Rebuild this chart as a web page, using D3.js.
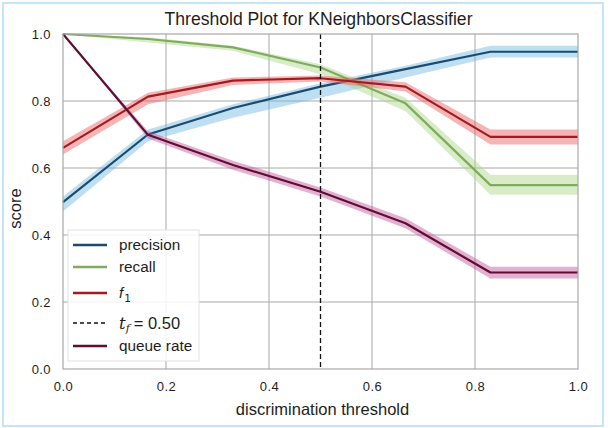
<!DOCTYPE html>
<html>
<head>
<meta charset="utf-8">
<script src="https://cdn.jsdelivr.net/npm/d3@7/dist/d3.min.js"></script>
<style>
  html, body { margin: 0; padding: 0; background: #fff; }
  svg { display: block; }
  text { font-family: "Liberation Sans", Arial, sans-serif; fill: #1e1e1e; }
</style>
</head>
<body>
<svg id="chart" width="610" height="428"></svg>
<script>
// Discrimination thresholds at which each metric was evaluated
const thresholds = [0, 0.165, 0.33, 0.5, 0.665, 0.83, 1.0];

// Median score per threshold, with lower / upper bands across trials
const precision     = [0.498, 0.700, 0.779, 0.843, 0.895, 0.947, 0.947];
const precisionLow  = [0.470, 0.680, 0.750, 0.810, 0.870, 0.930, 0.930];
const precisionHigh = [0.515, 0.715, 0.790, 0.853, 0.905, 0.965, 0.965];

const recall     = [1.000, 0.985, 0.960, 0.900, 0.793, 0.549, 0.549];
const recallLow  = [1.000, 0.975, 0.950, 0.880, 0.770, 0.520, 0.520];
const recallHigh = [1.000, 0.990, 0.965, 0.910, 0.810, 0.580, 0.580];

const f1     = [0.660, 0.813, 0.861, 0.868, 0.843, 0.693, 0.693];
const f1Low  = [0.640, 0.790, 0.848, 0.858, 0.828, 0.670, 0.670];
const f1High = [0.680, 0.825, 0.870, 0.876, 0.856, 0.715, 0.715];

const queueRate     = [1.000, 0.699, 0.609, 0.529, 0.435, 0.288, 0.288];
const queueRateLow  = [1.000, 0.688, 0.595, 0.515, 0.420, 0.270, 0.270];
const queueRateHigh = [1.000, 0.710, 0.622, 0.542, 0.450, 0.305, 0.305];

const chosenThreshold = 0.50;

const xTicks = [0.0, 0.2, 0.4, 0.6, 0.8, 1.0];
const yTicks = [0.0, 0.2, 0.4, 0.6, 0.8, 1.0];

const metrics = [
  { name: "precision",  median: precision, low: precisionLow, high: precisionHigh, line: "#1b4b6e", band: "#6fb8e0" },
  { name: "recall",     median: recall,    low: recallLow,    high: recallHigh,    line: "#80ab5c", band: "#a9d485" },
  { name: "f1",         median: f1,        low: f1Low,        high: f1High,        line: "#a31b22", band: "#ea5a5a" },
  { name: "queue rate", median: queueRate, low: queueRateLow, high: queueRateHigh, line: "#5c0f30", band: "#c04f9c" }
];

const svg = d3.select("#chart");
const plot = { left: 63, top: 34, right: 578, bottom: 369 };

// outer frame
svg.append("rect")
  .attr("x", 3).attr("y", 3).attr("width", 600).attr("height", 423)
  .attr("fill", "none").attr("stroke", "#c4e4f7").attr("stroke-width", 2);

const x = d3.scaleLinear().domain([0, 1]).range([plot.left, plot.right]);
const y = d3.scaleLinear().domain([0, 1]).range([plot.bottom, plot.top]);

const g = svg.append("g");

// grid
g.append("g").selectAll("line").data(xTicks.slice(1, -1)).join("line")
  .attr("x1", d => x(d)).attr("x2", d => x(d))
  .attr("y1", plot.top).attr("y2", plot.bottom)
  .attr("stroke", "#a8a8a8").attr("stroke-width", 1);
g.append("g").selectAll("line").data(yTicks.slice(1, -1)).join("line")
  .attr("y1", d => y(d)).attr("y2", d => y(d))
  .attr("x1", plot.left).attr("x2", plot.right)
  .attr("stroke", "#a8a8a8").attr("stroke-width", 1);

// axes (tick labels only, no tick marks)
const xAxis = d3.axisBottom(x).tickValues(xTicks).tickFormat(d3.format(".1f")).tickSize(0).tickPadding(13);
const yAxis = d3.axisLeft(y).tickValues(yTicks).tickFormat(d3.format(".1f")).tickSize(0).tickPadding(12);
const xa = svg.append("g").attr("transform", `translate(0,${plot.bottom})`).call(xAxis);
const ya = svg.append("g").attr("transform", `translate(${plot.left},0)`).call(yAxis);
[xa, ya].forEach(a => {
  a.select(".domain").remove();
  a.selectAll("text").attr("font-size", 13).attr("fill", "#1e1e1e")
    .attr("letter-spacing", 0.4)
    .attr("font-family", "'Liberation Sans', Arial, sans-serif");
});

// bands and median lines
const area = d3.area().x((d, i) => x(thresholds[i])).y0(d => y(d[0])).y1(d => y(d[1]));
const line = d3.line().x((d, i) => x(thresholds[i])).y(d => y(d));

metrics.forEach(m => {
  const pairs = m.low.map((v, i) => [v, m.high[i]]);
  g.append("path").datum(pairs).attr("d", area)
    .attr("fill", m.band).attr("fill-opacity", 0.45).attr("stroke", "none");
  g.append("path").datum(m.median).attr("d", line)
    .attr("fill", "none").attr("stroke", m.line).attr("stroke-width", 2.2)
    .attr("stroke-linejoin", "round");
});

// chosen threshold
g.append("line")
  .attr("x1", x(chosenThreshold)).attr("x2", x(chosenThreshold))
  .attr("y1", plot.top).attr("y2", plot.bottom)
  .attr("stroke", "#111").attr("stroke-width", 1.3).attr("stroke-dasharray", "5,3");

// plot frame
svg.append("rect")
  .attr("x", plot.left).attr("y", plot.top)
  .attr("width", plot.right - plot.left).attr("height", plot.bottom - plot.top)
  .attr("fill", "none").attr("stroke", "#a8a8a8").attr("stroke-width", 1.2);

// title and axis labels
svg.append("text").attr("x", (plot.left + plot.right) / 2 - 2).attr("y", 25)
  .attr("text-anchor", "middle").attr("font-size", 17.6)
  .text("Threshold Plot for KNeighborsClassifier");
svg.append("text").attr("x", (plot.left + plot.right) / 2 + 2).attr("y", 415)
  .attr("text-anchor", "middle").attr("font-size", 16.5)
  .text("discrimination threshold");
svg.append("text").attr("transform", `translate(21,${(plot.top + plot.bottom) / 2 + 7}) rotate(-90)`)
  .attr("text-anchor", "middle").attr("font-size", 16.5)
  .text("score");

// legend
const leg = svg.append("g");
leg.append("rect").attr("x", 68).attr("y", 230).attr("width", 131).attr("height", 131)
  .attr("fill", "#fff").attr("fill-opacity", 0.85)
  .attr("stroke", "#e2e2e2").attr("stroke-width", 1);

const legendRows = [
  { key: "precision",  color: metrics[0].line, dash: null, y: 245 },
  { key: "recall",     color: metrics[1].line, dash: null, y: 267 },
  { key: "f1",         color: metrics[2].line, dash: null, y: 293 },
  { key: "tf",         color: "#111",          dash: "4,3", y: 323 },
  { key: "queue rate", color: metrics[3].line, dash: null, y: 346 }
];
legendRows.forEach(r => {
  leg.append("line").attr("x1", 73).attr("x2", 107).attr("y1", r.y).attr("y2", r.y)
    .attr("stroke", r.color).attr("stroke-width", r.dash ? 1.5 : 2.4)
    .attr("stroke-dasharray", r.dash);
  const t = leg.append("text").attr("x", 119).attr("y", r.y + 5).attr("font-size", 15.3);
  if (r.key === "f1") {
    t.attr("font-family", "'DejaVu Serif', serif").attr("font-size", 15);
    t.append("tspan").attr("font-style", "italic").text("f");
    t.append("tspan").attr("font-size", 10.5).attr("dy", 4).attr("dx", 1)
      .attr("font-family", "'DejaVu Sans', sans-serif").text("1");
  } else if (r.key === "tf") {
    t.attr("font-family", "'DejaVu Sans', sans-serif").attr("font-size", 16.5).attr("y", r.y + 6);
    t.append("tspan").attr("font-style", "italic").attr("font-family", "'DejaVu Serif', serif").text("t");
    t.append("tspan").attr("font-size", 11).attr("dy", 3).attr("font-style", "italic")
      .attr("font-family", "'DejaVu Serif', serif").text("f");
    t.append("tspan").attr("dy", -3).attr("dx", 4).text("= 0.50");
  } else {
    t.text(r.key);
  }
});
</script>
</body>
</html>
